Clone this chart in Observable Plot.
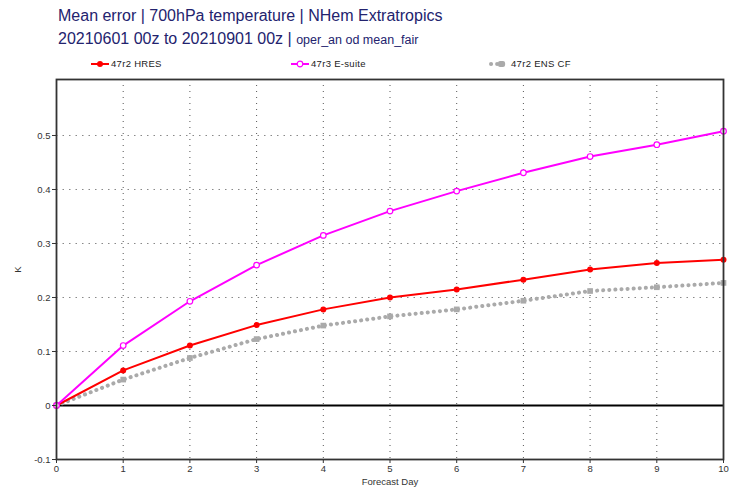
<!DOCTYPE html>
<html>
<head>
<meta charset="utf-8">
<script src="https://cdn.jsdelivr.net/npm/d3@7"></script>
<script src="https://cdn.jsdelivr.net/npm/@observablehq/plot@0.6"></script>
<style>
  html, body { margin: 0; padding: 0; background: #fff; }
  #wrap { position: relative; width: 729px; height: 494px; font-family: "Liberation Sans", Arial, sans-serif; }
  .t { position: absolute; color: #23236e; white-space: nowrap; }
  #t1 { left: 58px; top: 7px; font-size: 16px; }
  #t2 { left: 58px; top: 30px; font-size: 16px; }
  #t2 span { font-size: 12.5px; }
  .leg { position: absolute; top: 58px; font-size: 9.5px; color: #222; letter-spacing: 0.3px; display: flex; align-items: center; }
  .leg svg { margin-right: 2px; }
  #chart { position: absolute; left: 0; top: 70px; }
</style>
</head>
<body>
<div id="wrap">
  <div class="t" id="t1">Mean error | 700hPa temperature | NHem Extratropics</div>
  <div class="t" id="t2">20210601 00z to 20210901 00z | <span>oper_an od mean_fair</span></div>
  <div id="legend"></div>
  <div id="chart"></div>
</div>
<script>
const days = [0, 1, 2, 3, 4, 5, 6, 7, 8, 9, 10];
const hres = [0, 0.065, 0.111, 0.149, 0.178, 0.200, 0.215, 0.233, 0.252, 0.264, 0.270];
const esuite = [0, 0.111, 0.193, 0.260, 0.315, 0.360, 0.397, 0.431, 0.461, 0.483, 0.508];
const enscf = [0, 0.048, 0.088, 0.123, 0.148, 0.165, 0.178, 0.194, 0.212, 0.219, 0.227];
const seriesNames = ["47r2 HRES", "47r3 E-suite", "47r2 ENS CF"];
const yTicks = [-0.1, 0, 0.1, 0.2, 0.3, 0.4, 0.5];
const xTicks = days;

const rows = (vals) => days.map((d, i) => ({day: d, v: vals[i]}));
const dHres = rows(hres), dEs = rows(esuite), dEns = rows(enscf);

// Legend
const legend = document.getElementById("legend");
const legSpecs = [
  {name: seriesNames[0], left: 91, svg: '<svg width="18" height="8"><line x1="0" y1="4" x2="18" y2="4" stroke="#ff0000" stroke-width="2"/><circle cx="9" cy="4" r="3" fill="#ff0000"/></svg>'},
  {name: seriesNames[1], left: 291, svg: '<svg width="18" height="8"><line x1="0" y1="4" x2="18" y2="4" stroke="#ff00ff" stroke-width="2"/><circle cx="9" cy="4" r="2.8" fill="#fff" stroke="#ff00ff" stroke-width="1.2"/></svg>'},
  {name: seriesNames[2], left: 489, svg: '<svg width="20" height="8"><line x1="2" y1="4" x2="18" y2="4" stroke="#aaaaaa" stroke-width="4" stroke-linecap="round" stroke-dasharray="0.1,6"/><rect x="9" y="1" width="7" height="6" rx="2" fill="#aaaaaa"/></svg>'}
];
for (const s of legSpecs) {
  const el = document.createElement("div");
  el.className = "leg";
  el.style.left = s.left + "px";
  el.innerHTML = s.svg + "<span>" + s.name + "</span>";
  legend.appendChild(el);
}

const chart = Plot.plot({
  width: 729,
  height: 424,
  marginLeft: 56,
  marginRight: 6,
  marginTop: 9,
  marginBottom: 35,
  style: {fontFamily: "Liberation Sans, Arial, sans-serif", fontSize: "9.5px", color: "#333", background: "white"},
  x: {domain: [0, 10]},
  y: {domain: [-0.1, 0.6037]},
  marks: [
    Plot.ruleX(xTicks.filter(d => d > 0 && d < 10), {stroke: "#555", strokeDasharray: "1,5", strokeWidth: 1}),
    Plot.ruleY(yTicks.filter(d => d > 0), {stroke: "#888", strokeDasharray: "1.5,5", strokeWidth: 1}),
    Plot.ruleY([0], {stroke: "#000", strokeWidth: 2}),
    Plot.line(dEns, {x: "day", y: "v", stroke: "#aaaaaa", strokeWidth: 4, strokeLinecap: "round", strokeDasharray: "0.1,6"}),
    Plot.dot(dEns, {x: "day", y: "v", symbol: "square", r: 3.2, fill: "#aaaaaa"}),
    Plot.line(dHres, {x: "day", y: "v", stroke: "#ff0000", strokeWidth: 2}),
    Plot.dot(dHres, {x: "day", y: "v", r: 3, fill: "#ff0000"}),
    Plot.line(dEs, {x: "day", y: "v", stroke: "#ff00ff", strokeWidth: 2}),
    Plot.dot(dEs, {x: "day", y: "v", r: 2.8, fill: "white", stroke: "#ff00ff", strokeWidth: 1.2}),
    Plot.axisY({ticks: yTicks, tickFormat: d => String(+d.toFixed(1)), tickSize: 4, tickPadding: 2, label: "K", labelAnchor: "center", labelArrow: "none", labelOffset: 42}),
    Plot.axisX({ticks: xTicks, tickFormat: d => String(d), tickSize: 4, tickPadding: 2, label: "Forecast Day", labelAnchor: "center", labelArrow: "none", labelOffset: 25}),
    Plot.frame({stroke: "#333", strokeWidth: 1.8})
  ]
});
document.getElementById("chart").appendChild(chart);
</script>
</body>
</html>
